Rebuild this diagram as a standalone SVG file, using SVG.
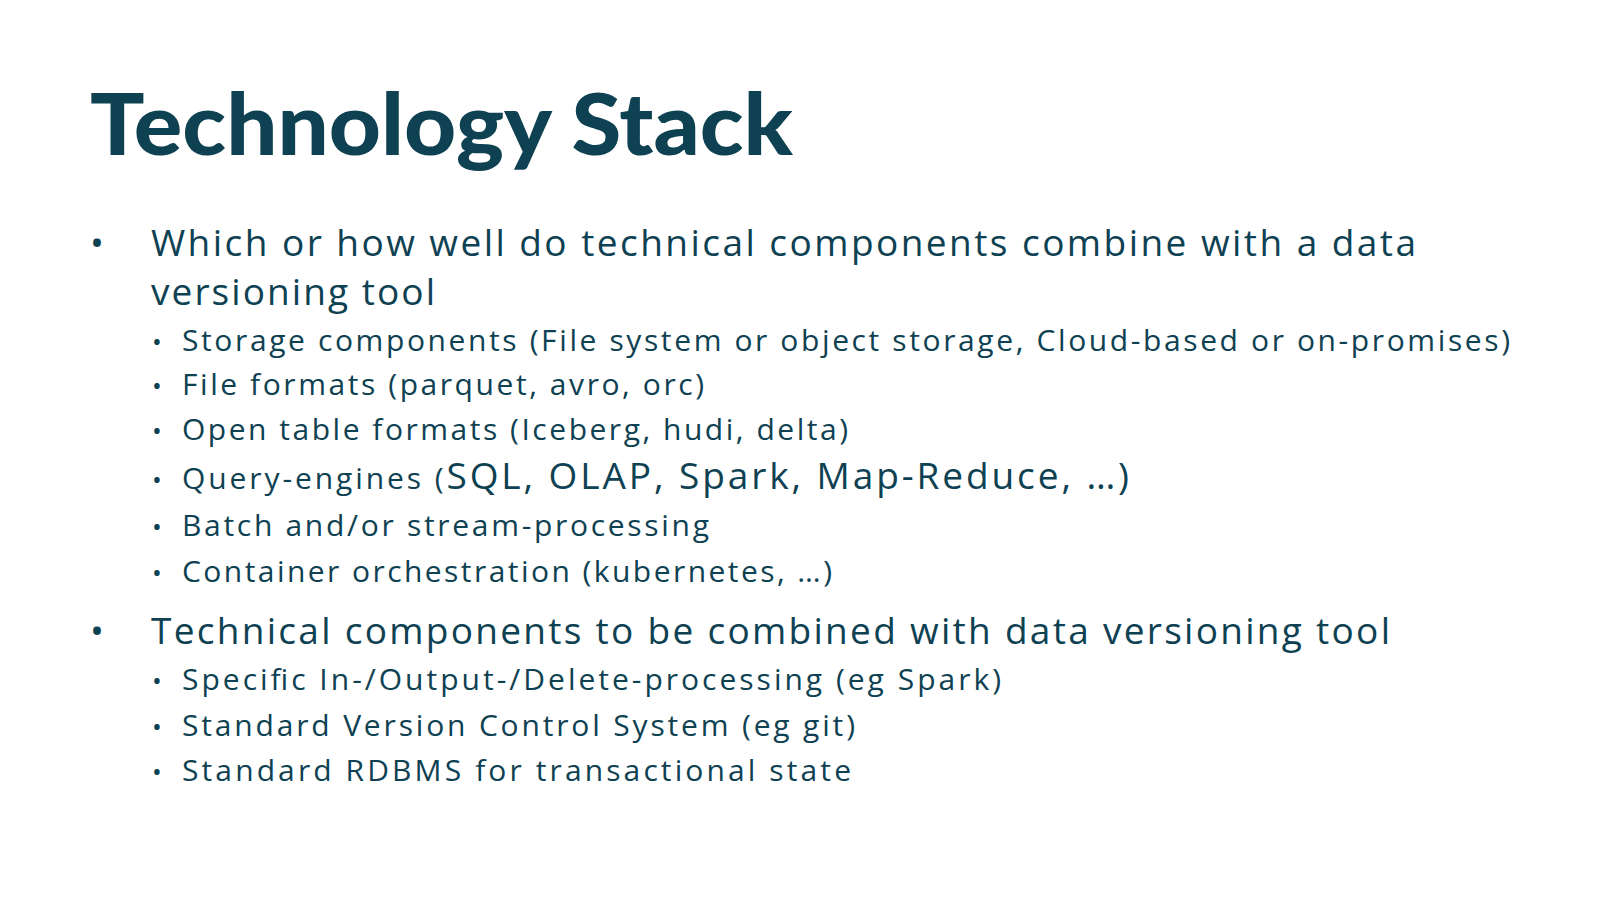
<svg xmlns="http://www.w3.org/2000/svg" width="1600" height="900" viewBox="0 0 1600 900">
<style>
text{fill:#0e4152;font-family:"Open Sans",Lato,sans-serif}
.t{font-family:Lato,sans-serif;font-size:86px;font-weight:900}
.m{font-size:37px}
.s{font-size:30px}
.b{font-size:26px}
</style>
<rect width="1600" height="900" fill="#fff"/>
<g id="title"><text class="t" x="90" y="155" textLength="703" lengthAdjust="spacingAndGlyphs">Technology Stack</text></g>
<g id="bullets">
<text class="m" x="90" y="256">•</text>
<text class="m" x="151" y="256" textLength="1265">Which or how well do technical components combine with a data</text>
<text class="m" x="151" y="305" textLength="284">versioning tool</text>
<text class="b" x="152" y="351">•</text><text class="s" x="182" y="351" textLength="1328">Storage components (File system or object storage, Cloud-based or on-promises)</text>
<text class="b" x="152" y="395">•</text><text class="s" x="182" y="395" textLength="522">File formats (parquet, avro, orc)</text>
<text class="b" x="152" y="440">•</text><text class="s" x="182" y="440" textLength="666">Open table formats (Iceberg, hudi, delta)</text>
<text class="b" x="152" y="489">•</text><text class="s" x="182" y="489" textLength="947">Query-engines (<tspan font-size="37">SQL, OLAP, Spark, Map-Reduce, …)</tspan></text>
<text class="b" x="152" y="536">•</text><text class="s" x="182" y="536" textLength="527">Batch and/or stream-processing</text>
<text class="b" x="152" y="582">•</text><text class="s" x="182" y="582" textLength="650">Container orchestration (kubernetes, …)</text>
<text class="m" x="90" y="644">•</text>
<text class="m" x="151" y="644" textLength="1239">Technical components to be combined with data versioning tool</text>
<text class="b" x="152" y="690">•</text><text class="s" x="182" y="690" textLength="819">Specific In-/Output-/Delete-processing (eg Spark)</text>
<text class="b" x="152" y="736">•</text><text class="s" x="182" y="736" textLength="673">Standard Version Control System (eg git)</text>
<text class="b" x="152" y="781">•</text><text class="s" x="182" y="781" textLength="669">Standard RDBMS for transactional state</text>
</g>
</svg>
